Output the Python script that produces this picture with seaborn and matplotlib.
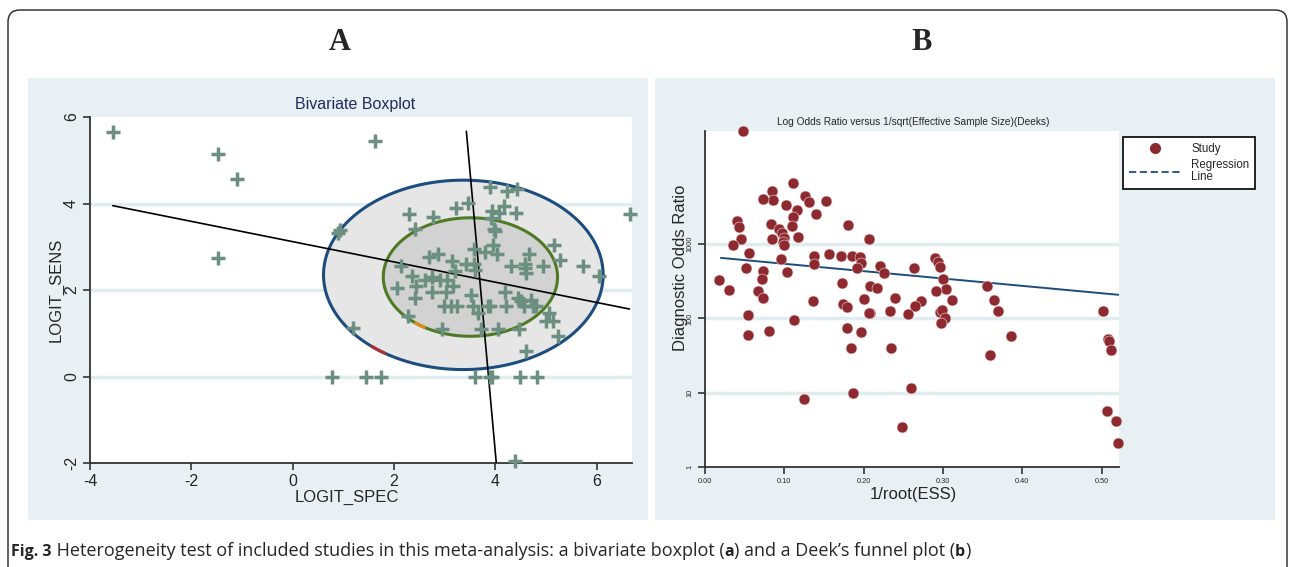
import numpy as np
import pandas as pd
import matplotlib
matplotlib.use("Agg")
import matplotlib.pyplot as plt
import seaborn as sns
from matplotlib.patches import Rectangle, FancyBboxPatch
from matplotlib.lines import Line2D
from matplotlib.transforms import IdentityTransform

# ---- Panel A: bivariate boxplot (logit specificity vs logit sensitivity) ----
logit_spec = [-3.55, -1.48, -1.10, -1.48, 1.62, 6.66, 0.89, 0.94, 1.20, 4.40,
              0.77, 1.44, 1.74, 3.61, 3.89, 3.94, 4.48, 4.82,
              3.90, 4.23, 4.43, 3.46, 3.23, 4.18, 3.93, 4.08, 4.41, 2.29,
              2.77, 3.92, 2.41, 3.98, 3.99, 5.17, 3.96, 3.59, 3.79, 4.03,
              4.66, 2.87, 2.70, 5.28, 3.15, 2.14, 3.42, 3.59, 4.59, 4.31,
              4.59, 4.95, 5.73, 3.61, 3.21, 4.61, 6.05, 2.36, 2.75, 2.62,
              2.90, 3.04, 2.44, 3.16, 2.06, 2.76, 3.02, 4.20, 3.52, 2.42,
              4.44, 4.71, 4.51, 2.98, 3.13, 3.24, 3.56, 3.85, 3.90, 4.21,
              4.57, 4.75, 4.80, 3.65, 5.06, 5.00, 5.15, 2.27, 2.95, 3.72,
              4.05, 4.46, 5.23, 4.61]
logit_sens = [5.66, 5.15, 4.57, 2.73, 5.44, 3.75, 3.32, 3.38, 1.11, -1.95,
              0, 0, 0, 0, 0, 0, 0, 0,
              4.39, 4.30, 4.33, 4.01, 3.90, 3.95, 3.83, 3.78, 3.78, 3.76,
              3.69, 3.66, 3.41, 3.41, 3.36, 3.05, 3.05, 2.95, 2.87, 2.83,
              2.84, 2.84, 2.76, 2.69, 2.66, 2.56, 2.59, 2.61, 2.60, 2.56,
              2.51, 2.55, 2.55, 2.47, 2.43, 2.39, 2.33, 2.32, 2.30, 2.22,
              2.22, 2.22, 2.10, 2.09, 2.05, 1.95, 1.95, 1.95, 1.89, 1.82,
              1.82, 1.78, 1.74, 1.62, 1.62, 1.62, 1.62, 1.62, 1.62, 1.62,
              1.62, 1.62, 1.62, 1.47, 1.47, 1.28, 1.28, 1.39, 1.10, 1.10,
              1.10, 1.10, 0.93, 0.58]

# hinge / fence ellipses: centre x, centre y, half-width, half-height
fence = (3.37, 2.35, 2.76, 2.19)
hinge = (3.51, 2.30, 1.72, 1.37)
# the two regression lines (x-values, y-values)
line1_x, line1_y = [-3.55, 6.65], [3.95, 1.56]
line2_x, line2_y = [3.43, 4.02], [5.67, -1.99]

# ---- Panel B: Deeks funnel plot ----
ess_x = [0.0475, 0.111, 0.084, 0.086, 0.0727, 0.126, 0.131, 0.152, 0.102, 0.1155,
         0.1105, 0.110, 0.140, 0.0407, 0.0432, 0.0453, 0.0357, 0.0831, 0.0936, 0.0966,
         0.0995, 0.0979, 0.0995, 0.084, 0.1167, 0.1797, 0.2074, 0.0554, 0.0953, 0.1377,
         0.1369, 0.1558, 0.1709, 0.1848, 0.1952, 0.1961, 0.1918, 0.2204, 0.2258, 0.2636,
         0.2897, 0.2939, 0.296, 0.300, 0.3044, 0.2918, 0.3115, 0.0513, 0.0735, 0.0722,
         0.1037, 0.018, 0.0306, 0.0671, 0.0727, 0.1722, 0.2078, 0.217, 0.2006, 0.2393,
         0.2729, 0.2645, 0.1364, 0.1734, 0.1792, 0.2338, 0.208, 0.2065, 0.256, 0.0545,
         0.112, 0.296, 0.299, 0.302, 0.2981, 0.3556, 0.364, 0.369, 0.5016, 0.1792,
         0.1961, 0.1839, 0.2351, 0.3862, 0.3598, 0.508, 0.509, 0.512, 0.186, 0.2603,
         0.249, 0.5067, 0.5176, 0.5205, 0.0545, 0.0806, 0.125]
dor = [33000, 6600, 5130, 3890, 4070, 4470, 3630, 3800, 3390, 2880,
       2340, 1740, 2570, 2040, 1700, 1150, 980, 1860, 1580, 1410,
       1200, 1070, 980, 1150, 1260, 1820, 1150, 760, 630, 680,
       540, 740, 690, 690, 660, 550, 470, 500, 410, 470,
       650, 575, 490, 340, 245, 235, 178, 480, 430, 340,
       420, 330, 240, 230, 186, 300, 275, 257, 182, 190,
       170, 148, 170, 158, 141, 126, 117, 117, 115, 110,
       95, 120, 129, 100, 87, 270, 174, 126, 126, 74,
       66, 40, 40, 58, 32, 52, 49, 37, 10, 11.5,
       3.4, 5.6, 4.2, 2.1, 60, 68, 8.1]
reg_x = [0.020, 0.522]
reg_dor = [650, 207]

x_ticks_b = [0.0, 0.1, 0.2, 0.3, 0.4, 0.5]
y_ticks_b = [1, 10, 100, 1000]

# colours
PANEL_BG = "#e8f0f3"
GRID = "#e1ecf0"
CROSS = "#6b8f80"
FENCE_EDGE = "#1c4d7e"
HINGE_EDGE = "#4f7a25"
DOT = "#8c2a30"
REG = "#1c4d7e"
AXIS = "#333333"

W, H = 1295, 567
def fx(x):
    return x / W
def fy(y):
    return 1 - y / H

sns.set_style("white")
plt.rcParams['font.family'] = ['Liberation Sans', 'DejaVu Sans']
plt.rcParams['axes.unicode_minus'] = False

fig = plt.figure(figsize=(W / 100, H / 100), dpi=100)

# outer rounded frame and grey-blue panels
fig.add_artist(FancyBboxPatch((8, -30), 1279, 557 + 30, boxstyle="round,pad=0,rounding_size=12",
                              transform=IdentityTransform(), facecolor="none",
                              edgecolor="#222222", lw=1.0, zorder=-2))
for x0 in (28, 655):
    fig.add_artist(Rectangle((fx(x0), fy(520)), 620 / W, 442 / H, transform=fig.transFigure,
                             facecolor=PANEL_BG, edgecolor="none", zorder=-1))

fig.text(fx(340), fy(42), "A", ha="center", va="center", fontsize=22, fontweight="bold",
         family=["Liberation Serif", "DejaVu Serif"])
fig.text(fx(922), fy(42), "B", ha="center", va="center", fontsize=22, fontweight="bold",
         family=["Liberation Serif", "DejaVu Serif"])


def style_axis(ax):
    sns.despine(ax=ax)
    for s in ("left", "bottom"):
        ax.spines[s].set_color(AXIS)
        ax.spines[s].set_linewidth(1.3)
    ax.set_facecolor("white")
    ax.tick_params(direction="out", length=5, width=1.2, color=AXIS, left=True, bottom=True)


# ---------------- panel A ----------------
ax1 = fig.add_axes([fx(90), fy(463), 542 / W, 346 / H])
style_axis(ax1)
for gy in (0, 2, 4):
    ax1.axhline(gy, color=GRID, lw=2.5, zorder=0.5)

t = np.linspace(0, 2 * np.pi, 400)
for (cx, cy, a, b), fill, edge in ((fence, "#e6e6e6", FENCE_EDGE), (hinge, "#d2d2d2", HINGE_EDGE)):
    ex, ey = cx + a * np.cos(t), cy + b * np.sin(t)
    ax1.fill(ex, ey, color=fill, zorder=1)
    ax1.plot(ex, ey, color=edge, lw=2.2, zorder=2)
# small coloured arcs on the contours
ta = np.radians(np.linspace(229, 236, 20))
ax1.plot(fence[0] + fence[2] * np.cos(ta), fence[1] + fence[3] * np.sin(ta), color="#b03030", lw=2.2, zorder=2)
tb = np.radians(np.linspace(231, 238, 20))
ax1.plot(hinge[0] + hinge[2] * np.cos(tb), hinge[1] + hinge[3] * np.sin(tb), color="#e08a10", lw=2.2, zorder=2)

sns.lineplot(x=line1_x, y=line1_y, color="black", lw=1.2, ax=ax1, zorder=3)
sns.lineplot(x=line2_x, y=line2_y, color="black", lw=1.2, ax=ax1, zorder=3, sort=False)

df_a = pd.DataFrame({"LOGIT_SPEC": logit_spec, "LOGIT_SENS": logit_sens})
sns.scatterplot(data=df_a, x="LOGIT_SPEC", y="LOGIT_SENS", marker="+", s=95, linewidth=2.5,
                color=CROSS, ax=ax1, zorder=4, clip_on=False)

ax1.set_xlim(-4, 6.7)
ax1.set_ylim(-2, 6)
ax1.set_xticks([-4, -2, 0, 2, 4, 6])
ax1.set_yticks([-2, 0, 2, 4, 6])
ax1.tick_params(labelsize=11.5, pad=3)
plt.setp(ax1.get_yticklabels(), rotation=90, va="center")
ax1.set_xlabel("LOGIT_SPEC", fontsize=12)
ax1.set_ylabel("LOGIT_SENS", fontsize=12)
ax1.xaxis.set_label_coords((347 - 90) / 542, (463 - 490) / 346)
ax1.yaxis.set_label_coords((64 - 90) / 542, 0.5)
fig.text(fx(355), fy(104), "Bivariate Boxplot", ha="center", va="center", fontsize=11.5, color="#1f2a5c")

# ---------------- panel B ----------------
ax2 = fig.add_axes([fx(705), fy(467), 414 / W, 336 / H])
style_axis(ax2)
ax2.set_yscale("log")
for gy in (10, 100, 1000):
    ax2.axhline(gy, color=GRID, lw=2.5, zorder=0.5)

df_b = pd.DataFrame({"ess": ess_x, "dor": dor})
sns.lineplot(x=reg_x, y=reg_dor, color=REG, lw=1.4, ax=ax2, zorder=2)
sns.scatterplot(data=df_b, x="ess", y="dor", s=62, color=DOT, edgecolor="#f4dede", linewidth=0.4,
                ax=ax2, zorder=3, clip_on=False)

ax2.set_xlim(0, 0.522)
ax2.set_ylim(1, 10 ** 4.52)
ax2.set_xticks(x_ticks_b)
ax2.set_xticklabels([f"{v:.2f}" for v in x_ticks_b])
ax2.set_yticks(y_ticks_b)
ax2.set_yticklabels([str(v) for v in y_ticks_b])
ax2.yaxis.set_minor_locator(matplotlib.ticker.NullLocator())
ax2.tick_params(labelsize=5.3, pad=3)
plt.setp(ax2.get_yticklabels(), rotation=90, va="center")
ax2.set_xlabel("1/root(ESS)", fontsize=12)
ax2.set_ylabel("Diagnostic Odds Ratio", fontsize=12)
ax2.xaxis.set_label_coords((913 - 705) / 414, (467 - 487) / 336)
ax2.yaxis.set_label_coords((688 - 705) / 414, (467 - 268) / 336)
fig.text(fx(913), fy(122), "Log Odds Ratio versus 1/sqrt(Effective Sample Size)(Deeks)",
         ha="center", va="center", fontsize=7.3)

handles = [Line2D([], [], marker="o", ls="none", color=DOT, markersize=7),
           Line2D([], [], color=REG, ls=(0, (4, 2)), lw=1.3)]
leg = ax2.legend(handles, ["Study", "Regression\nLine"], loc="upper left",
                 bbox_to_anchor=(fx(1123), fy(137)), bbox_transform=fig.transFigure,
                 borderaxespad=0, frameon=True, fancybox=False, edgecolor="black", framealpha=1,
                 fontsize=8.3, handlelength=4.6, handletextpad=0.8, borderpad=0.5,
                 labelspacing=0.4)
leg.get_frame().set_linewidth(1.2)
for txt in leg.get_texts():
    txt.set_linespacing(1.0)

# ---------------- caption ----------------
cap_parts = [("Fig. 3", "bold"),
             (" Heterogeneity test of included studies in this meta-analysis: a bivariate boxplot (", "normal"),
             ("a", "bold"), (") and a Deek\u2019s funnel plot (", "normal"), ("b", "bold"), (")", "normal")]
renderer = fig.canvas.get_renderer()
xpos = 11
for s, wgt in cap_parts:
    tx = fig.text(fx(xpos), fy(556), s, ha="left", va="baseline",
                  fontsize=13.0 if wgt == "normal" else 11.5, fontweight=wgt,
                  family=["Open Sans", "DejaVu Sans"])
    xpos += tx.get_window_extent(renderer).width

fig.savefig("out.png", dpi=100)
